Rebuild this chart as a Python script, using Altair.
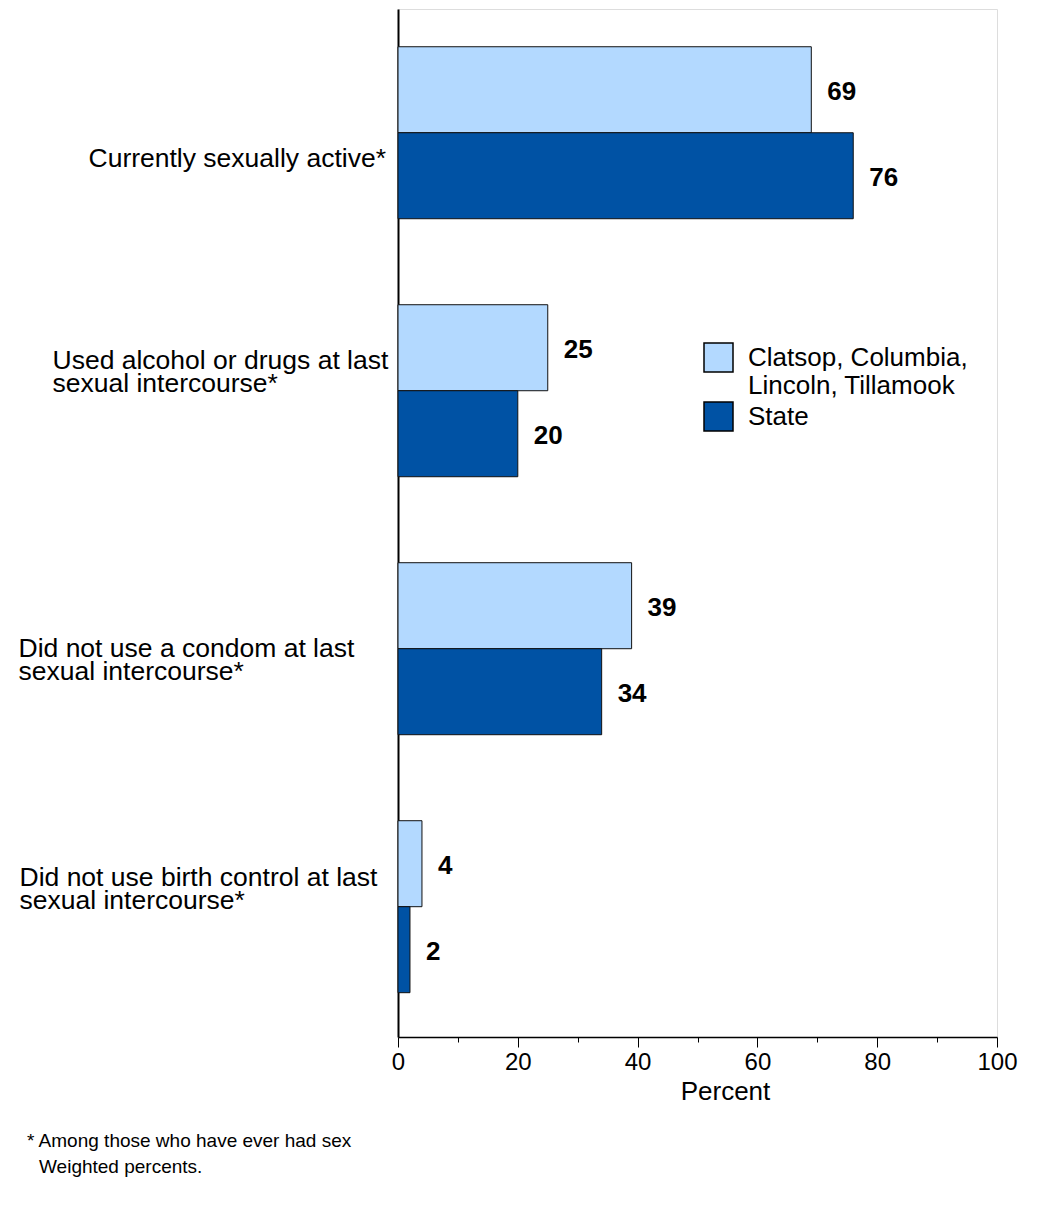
import altair as alt
import pandas as pd

cat_keys = ["Currently sexually active*",
            "Used alcohol or drugs at last\nsexual intercourse*",
            "Did not use a condom at last\nsexual intercourse*",
            "Did not use birth control at last\nsexual intercourse*"]
series = ["Clatsop, Columbia,\nLincoln, Tillamook", "State"]
county_values = [69, 25, 39, 4]
state_values = [76, 20, 34, 2]
colors = ["#b3d9ff", "#0052a4"]
footnote_1 = ["* Among those who have ever had sex"]
footnote_2 = ["Weighted percents."]

rows = []
for i, c in enumerate(cat_keys):
    rows.append({"cat": c, "series": series[0], "value": county_values[i]})
    rows.append({"cat": c, "series": series[1], "value": state_values[i]})
df = pd.DataFrame(rows)

FONT = "Liberation Sans"

label_pad = {"condition": [
    {"test": "indexof(datum.value, 'Currently') >= 0", "value": 310},
    {"test": "indexof(datum.value, 'alcohol') >= 0", "value": 346},
    {"test": "indexof(datum.value, 'condom') >= 0", "value": 380},
], "value": 379}
label_off = {"condition": [
    {"test": "indexof(datum.value, 'Currently') >= 0", "value": 26},
    {"test": "indexof(datum.value, 'alcohol') >= 0", "value": -30},
    {"test": "indexof(datum.value, 'condom') >= 0", "value": 0},
], "value": -29}

y_enc = alt.Y("cat:N", sort=cat_keys,
              scale=alt.Scale(paddingInner=1/3, paddingOuter=0.159, align=0.46),
              axis=alt.Axis(title=None, ticks=False, tickSize=0, domainColor="black", domainWidth=2,
                            labelFont=FONT, labelFontSize=26.5, labelColor="black",
                            labelAlign="left", labelBaseline="middle",
                            labelPadding=label_pad, labelOffset=label_off,
                            labelLimit=500, labelLineHeight=23,
                            labelExpr="split(datum.label, '\\n')"))
yoff = alt.YOffset("series:N", sort=series)
x_enc = alt.X("value:Q", scale=alt.Scale(domain=[0, 100], nice=False),
              axis=alt.Axis(title="Percent", values=list(range(0, 101, 5)),
                            labelExpr="datum.value % 20 === 0 ? datum.label : ''",
                            labelOverlap=False, labelFlush=False,
                            tickSize={"condition": {"test": "datum.value % 20 === 0", "value": 10}, "value": 5},
                            tickColor="black", domainColor="black", domainWidth=1.5,
                            grid=False, labelFont=FONT, labelFontSize=24, labelColor="black",
                            labelPadding=3, titleFont=FONT, titleFontSize=26,
                            titleFontWeight="normal", titleColor="black", titlePadding=4,
                            titleX=327, titleAlign="center"))

bars = alt.Chart(df).mark_bar(stroke="#111", strokeWidth=1).encode(
    x=x_enc, y=y_enc, yOffset=yoff,
    color=alt.Color("series:N", sort=series,
                    scale=alt.Scale(domain=series, range=colors),
                    legend=alt.Legend(title=None, orient="none", legendX=305, legendY=333,
                                      symbolType="square", symbolSize=841,
                                      symbolStrokeColor="black", symbolStrokeWidth=1.5,
                                      symbolOpacity=1,
                                      labelFont=FONT, labelFontSize=26, labelColor="black",
                                      labelOffset=14, rowPadding=0, labelLimit=400,
                                      labelExpr="split(datum.label, '\\n')"))
)

labels = alt.Chart(df).mark_text(align="left", baseline="middle", dx=16, dy=2,
                                 font=FONT, fontSize=26, fontWeight="bold",
                                 color="black").encode(
    x="value:Q", y=alt.Y("cat:N", sort=cat_keys), yOffset=yoff, text="value:Q"
)

note1 = alt.Chart(pd.DataFrame({"t": footnote_1})).mark_text(
    align="left", baseline="middle", font=FONT, fontSize=19, color="black"
).encode(x=alt.value(-371), y=alt.value(1132), text="t:N")
note2 = alt.Chart(pd.DataFrame({"t": footnote_2})).mark_text(
    align="left", baseline="middle", font=FONT, fontSize=19, color="black"
).encode(x=alt.value(-359), y=alt.value(1158), text="t:N")

chart = alt.layer(bars, labels, note1, note2).properties(
    width=599, height=1028,
    autosize=alt.AutoSizeParams(type="none"),
    padding={"left": 390, "top": 1, "right": 48, "bottom": 170},
).configure_view(stroke="#222", strokeWidth=1).configure(background="white")

chart.save("out.html", embed_options={"renderer": "svg", "actions": False})
